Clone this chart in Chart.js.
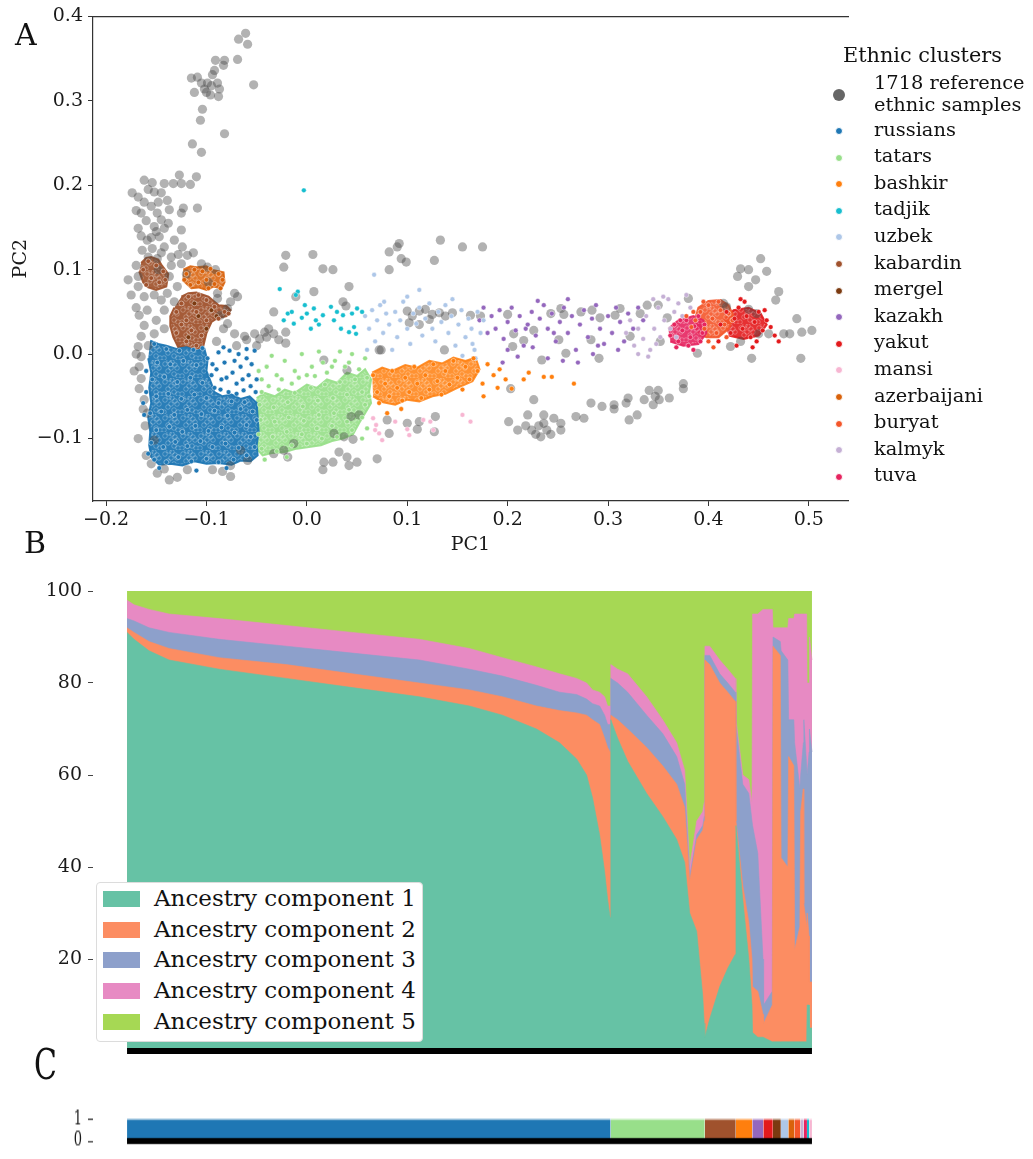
<!DOCTYPE html>
<html><head><meta charset="utf-8">
<script src="https://cdn.jsdelivr.net/npm/chart.js@4.4.0/dist/chart.umd.min.js"></script>
<style>
html,body{margin:0;padding:0;background:#fff;width:1033px;height:1159px;overflow:hidden;}
#wrap{position:relative;width:1033px;height:1159px;font-family:'DejaVu Serif',serif;color:#111;}
canvas{position:absolute;}
.t{position:absolute;white-space:nowrap;font-family:'DejaVu Serif',serif;color:#111;}
.dot{position:absolute;border-radius:50%;}
</style></head><body><div id="wrap">
<canvas id="cA" width="860" height="560" style="left:0;top:0;width:860px;height:560px"></canvas>
<canvas id="cB" width="860" height="504" style="left:0;top:570px;width:860px;height:504px"></canvas>
<div id="cWrap" style="position:absolute;left:0;top:1096px;width:860px;height:46px;transform:scaleY(1.5);transform-origin:0 0;">
<canvas id="cC" width="860" height="46" style="left:0;top:0;width:860px;height:46px"></canvas></div>
</div>
<script>
// ---------------- DATA : panel A (PCA) ----------------
const clusterNames = ['russians','tatars','bashkir','tadjik','uzbek','kabardin','mergel','kazakh','yakut','mansi','azerbaijani','buryat','kalmyk','tuva'];
const clusterColors = ['#1f77b4','#98df8a','#ff7f0e','#17becf','#aec7e8','#a0522d','#7b3a10','#9467bd','#e31a1c','#f7b6d2','#d9620b','#f4562a','#c5b0d5','#e6245f'];
const refLabel = ['1718 reference','ethnic samples'];

const refSamples = [
[-0.061,0.380],[-0.068,0.373],[-0.059,0.367],[-0.069,0.349],[-0.082,0.348],[-0.083,0.342],[-0.091,0.348],[-0.092,0.336],[-0.094,0.331],[-0.109,0.328],[-0.115,0.327],[-0.105,0.321],[-0.099,0.321],[-0.089,0.321],[-0.087,0.314],[-0.102,0.314],[-0.096,0.307],[-0.053,0.319],[-0.104,0.290],[-0.106,0.277],[-0.082,0.261],[-0.114,0.249],[-0.105,0.239],
[-0.1,0.31],[-0.095,0.318],[-0.088,0.305],[-0.112,0.31],
[-0.127,0.212],[-0.110,0.210],[-0.116,0.201],[-0.125,0.202],[-0.133,0.202],[-0.109,0.173],[-0.123,0.173],[-0.125,0.167],
[-0.174,0.191],[-0.162,0.206],[-0.154,0.203],[-0.142,0.202],[-0.168,0.186],[-0.162,0.180],[-0.152,0.192],[-0.145,0.191],[-0.139,0.182],[-0.165,0.167],[-0.155,0.175],[-0.149,0.167],[-0.137,0.171],[-0.145,0.159],[-0.152,0.151],[-0.142,0.149],[-0.168,0.149],[-0.125,0.147],[-0.147,0.139],[-0.159,0.135],[-0.132,0.135],[-0.154,0.125],[-0.142,0.127],[-0.164,0.123],[-0.124,0.127],[-0.149,0.113],[-0.135,0.115],[-0.119,0.117],[-0.125,0.107],[-0.105,0.107],[-0.099,0.103],[-0.091,0.100],
[-0.17,0.17],[-0.158,0.195],[-0.148,0.18],[-0.16,0.158],[-0.15,0.145],[-0.138,0.155],[-0.155,0.138],[-0.165,0.14],[-0.145,0.12],[-0.158,0.115],[-0.135,0.105],[-0.148,0.1],[-0.17,0.105],[-0.175,0.07],[-0.152,0.07],[-0.132,0.062],[-0.15,0.04],[-0.17,0.055],[-0.142,0.03],[-0.158,0.01],[-0.17,0.0],[-0.172,-0.02],[-0.163,-0.065],[-0.168,-0.1],[-0.16,-0.12],[-0.155,-0.13],[-0.12,0.095],[-0.128,0.118],[-0.113,0.12],[-0.098,0.085],[-0.076,0.062],[-0.083,0.03],[-0.09,0.015],[-0.07,0.01],[-0.05,0.01],[-0.04,0.02],[-0.028,0.017],
[-0.178,0.088],[-0.168,0.092],[-0.137,0.092],[-0.129,0.080],[-0.168,0.080],[-0.162,0.068],[-0.145,0.064],[-0.139,0.072],[-0.159,0.052],[-0.167,0.046],[-0.142,0.052],[-0.089,0.072],[-0.072,0.072],[-0.069,0.068],[-0.089,0.066],[-0.079,0.054],[-0.079,0.036],[-0.086,0.046],[-0.162,0.034],[-0.152,0.024],[-0.165,0.021],
[-0.072,0.024],[-0.062,0.021],[-0.052,0.024],[-0.042,0.026],[-0.033,0.024],[-0.021,0.026],[-0.021,0.013],[-0.033,0.050],[-0.060,0.017],[-0.047,0.018],[-0.038,0.030],
[-0.168,0.009],[-0.165,-0.003],[-0.167,-0.015],[-0.165,-0.029],[-0.167,-0.041],[-0.162,-0.054],[-0.159,-0.070],[-0.161,-0.085],[-0.152,-0.102],
[-0.149,-0.141],[-0.137,-0.149],[-0.129,-0.146],[-0.142,-0.136],[-0.119,-0.137],[-0.094,-0.137],[-0.084,-0.139],[-0.076,-0.145],[-0.076,-0.132],[-0.059,-0.126],[-0.066,-0.114],
[-0.033,-0.118],[-0.023,-0.114],[-0.013,-0.106],[-0.019,-0.122],[0.017,-0.128],[0.016,-0.137],[0.026,-0.128],[0.032,-0.116],[0.040,-0.122],[0.050,-0.128],[0.042,-0.132],[0.070,-0.124],[0.027,-0.094],[0.037,-0.098],[0.044,-0.074],[0.052,-0.072],[0.046,-0.101],[0.017,-0.007],[0.040,-0.019],[0.072,0.005],
[0.080,-0.078],[0.082,-0.094],[0.100,-0.082],[0.112,-0.080],[0.110,-0.089],[0.128,-0.074],[0.127,-0.092],
[-0.021,0.117],[-0.023,0.103],[0.006,0.118],[0.016,0.101],[0.026,0.100],[0.042,0.080],[-0.011,0.068],[0.007,0.074],[0.036,0.062],[0.039,0.057],
[0.082,0.121],[0.090,0.127],[0.092,0.131],[0.099,0.109],[0.094,0.113],[0.133,0.135],[0.127,0.111],[0.155,0.127],[0.175,0.127],[0.082,0.100],
[0.100,0.051],[0.105,0.045],[0.112,0.051],[0.118,0.053],[0.125,0.047],[0.132,0.049],[0.138,0.045],[0.145,0.049],[0.102,0.037],[0.112,0.035],[0.122,0.041],[0.163,0.046],[0.173,0.045],[0.074,0.005],[0.137,0.005],
[0.452,0.113],[0.432,0.101],[0.440,0.100],[0.429,0.092],[0.447,0.088],[0.458,0.098],[0.440,0.080],[0.470,0.074],[0.467,0.064],[0.415,0.060],[0.380,0.066],[0.488,0.042],[0.475,0.024],[0.493,0.026],[0.503,0.028],[0.481,0.024],[0.492,-0.005],[0.443,-0.005],[0.389,0.001],[0.422,0.009],[0.432,0.015],[0.450,0.024],[0.460,0.024],[0.448,0.048],[0.418,0.056],[0.440,0.053],
[0.243,0.048],[0.253,0.054],[0.256,0.047],[0.273,0.050],[0.284,0.052],[0.292,0.043],[0.307,0.046],[0.312,0.054],[0.206,0.024],[0.226,0.028],[0.216,0.016],[0.251,0.017],[0.283,0.017],[0.200,0.047],[0.205,0.009],[0.258,0.001],[0.234,-0.007],[0.291,-0.005],[0.332,0.048],[0.339,0.058],[0.350,0.058],[0.352,0.015],[0.359,0.043],[0.322,0.021],
[0.203,-0.041],[0.201,-0.080],[0.210,-0.090],[0.220,-0.072],[0.226,-0.054],[0.218,-0.085],[0.224,-0.090],[0.233,-0.098],[0.236,-0.082],[0.239,-0.090],[0.246,-0.076],[0.253,-0.082],[0.253,-0.090],[0.236,-0.072],[0.268,-0.074],[0.276,-0.076],[0.283,-0.058],[0.294,-0.062],[0.306,-0.060],[0.306,-0.065],[0.318,-0.058],[0.321,-0.078],[0.320,-0.052],[0.329,-0.072],[0.336,-0.054],[0.341,-0.043],[0.347,-0.050],[0.350,-0.043],[0.351,-0.054],[0.361,-0.052],[0.375,-0.035],[0.375,-0.041],[0.345,-0.060],[0.228,-0.095],[0.231,-0.085],[0.243,-0.095]
];

const russians = [
[-0.152,-0.125],[-0.14,-0.128],[-0.128,-0.122],[-0.115,-0.127],[-0.1,-0.124],[-0.088,-0.128],[-0.073,-0.125],[-0.06,-0.12],[-0.052,-0.11],
[-0.155,-0.105],[-0.143,-0.11],[-0.131,-0.104],[-0.119,-0.109],[-0.106,-0.103],[-0.094,-0.11],[-0.081,-0.106],[-0.068,-0.111],[-0.056,-0.098],
[-0.15,-0.09],[-0.137,-0.086],[-0.124,-0.092],[-0.111,-0.085],[-0.098,-0.091],[-0.085,-0.087],[-0.072,-0.093],[-0.06,-0.084],[-0.05,-0.078],
[-0.156,-0.07],[-0.145,-0.068],[-0.132,-0.072],[-0.119,-0.066],[-0.105,-0.071],[-0.092,-0.067],[-0.079,-0.073],[-0.066,-0.065],[-0.054,-0.068],
[-0.15,-0.05],[-0.138,-0.047],[-0.125,-0.053],[-0.112,-0.048],[-0.1,-0.052],[-0.088,-0.058],[-0.075,-0.056],[-0.062,-0.057],
[-0.154,-0.03],[-0.142,-0.027],[-0.129,-0.033],[-0.116,-0.028],[-0.104,-0.034],
[-0.149,-0.01],[-0.136,-0.012],[-0.123,-0.008],[-0.11,-0.013],[-0.099,-0.005],
[-0.152,0.012],[-0.14,0.006],[-0.127,0.004],[-0.113,0.005],[-0.104,0.007],
[-0.092,-0.04],[-0.085,-0.03],[-0.078,-0.045],[-0.07,-0.035],[-0.063,-0.043],[-0.056,-0.038],[-0.09,-0.018],[-0.082,-0.01],[-0.074,-0.022],[-0.066,-0.015],[-0.058,-0.025],[-0.051,-0.045],[-0.088,0.002],[-0.077,0.004],[-0.068,0.0],[-0.06,0.006],[-0.052,0.004],[-0.095,-0.025],
[-0.094,-0.012],[-0.086,-0.042],[-0.08,-0.028],[-0.072,-0.008],[-0.064,-0.03],[-0.055,-0.012],[-0.05,-0.03],[-0.083,0.008],[-0.07,-0.047],[-0.06,-0.005],
[-0.162,-0.072],[-0.16,-0.045],[-0.158,-0.118],[-0.16,-0.02],[-0.147,-0.135],[-0.11,-0.138],[-0.08,-0.135],[-0.163,-0.058]
];
const tatars = [
[-0.045,-0.112],[-0.03,-0.115],[-0.015,-0.108],[0.0,-0.106],[0.015,-0.1],[0.03,-0.098],[0.045,-0.09],
[-0.048,-0.095],[-0.034,-0.098],[-0.02,-0.092],[-0.005,-0.095],[0.01,-0.088],[0.025,-0.085],[0.04,-0.08],[0.055,-0.075],
[-0.046,-0.078],[-0.032,-0.08],[-0.018,-0.075],[-0.003,-0.079],[0.012,-0.072],[0.027,-0.07],[0.042,-0.066],[0.058,-0.06],
[-0.047,-0.06],[-0.033,-0.063],[-0.019,-0.057],[-0.004,-0.062],[0.011,-0.055],[0.026,-0.052],[0.04,-0.048],[0.055,-0.045],[0.062,-0.05],
[-0.045,-0.045],[-0.028,-0.042],[-0.012,-0.046],[0.004,-0.04],[0.018,-0.036],[0.033,-0.033],[0.048,-0.03],[0.06,-0.028],
[-0.045,-0.03],[-0.04,-0.015],[-0.03,-0.025],[-0.022,-0.008],[-0.012,-0.02],[-0.005,0.0],[0.005,-0.015],[0.012,0.003],[0.02,-0.022],[0.028,-0.008],[0.038,-0.015],[0.045,0.0],[0.052,-0.018],[0.058,-0.005],[-0.035,-0.002],[0.0,-0.025],[0.033,0.003],[-0.015,-0.035],
[-0.038,-0.038],[-0.025,-0.03],[-0.008,-0.028],[0.008,-0.026],[0.025,-0.015],[0.042,-0.01],[-0.048,-0.02],[0.016,-0.01],
[-0.042,-0.125],[-0.02,-0.122],[0.055,-0.1],[0.06,-0.088]
];
const bashkir = [
[0.066,-0.025],[0.07,-0.045],[0.072,-0.058],[0.078,-0.035],[0.082,-0.05],[0.085,-0.02],[0.09,-0.04],[0.095,-0.055],[0.098,-0.028],[0.102,-0.045],[0.107,-0.015],[0.11,-0.035],[0.114,-0.052],[0.118,-0.025],[0.122,-0.042],[0.126,-0.012],[0.13,-0.032],[0.134,-0.048],[0.138,-0.02],[0.142,-0.036],[0.146,-0.008],[0.15,-0.028],[0.155,-0.042],[0.158,-0.015],[0.162,-0.03],[0.166,-0.005],[0.17,-0.02],[0.175,-0.035],[0.18,-0.012],[0.186,-0.025],[0.192,-0.018],[0.198,-0.03],[0.204,-0.041],[0.216,-0.03],[0.221,-0.022],[0.236,-0.027],[0.244,-0.027],[0.266,-0.035],[0.19,-0.04],[0.176,-0.05],[0.094,-0.065],[0.08,-0.07]
];
const tadjik = [
[-0.027,0.077],[-0.009,0.074],[-0.011,0.070],[-0.002,0.058],[0.007,0.054],[0.016,0.046],[0.000,0.048],[0.009,0.040],[0.004,0.030],[-0.013,0.036],[-0.019,0.048],[-0.023,0.040],[0.024,0.056],[0.027,0.040],[0.036,0.046],[0.034,0.030],[0.042,0.026],[0.045,0.048],[0.047,0.032],[0.049,0.024],[0.050,0.054],[-0.003,0.194],[-0.015,0.05],[0.012,0.035],[0.03,0.05],[0.055,0.05],[-0.005,0.043]
];
const uzbek = [
[0.058,0.045],[0.062,0.03],[0.065,0.052],[0.068,0.015],[0.07,0.04],[0.073,0.058],[0.076,0.025],[0.079,0.048],[0.082,0.035],[0.085,0.005],[0.088,0.05],[0.09,0.02],[0.093,0.04],[0.096,0.062],[0.1,0.03],[0.103,0.012],[0.106,0.048],[0.109,0.036],[0.112,0.055],[0.115,0.022],[0.118,0.042],[0.122,0.06],[0.125,0.03],[0.128,0.015],[0.131,0.05],[0.134,0.038],[0.138,0.058],[0.141,0.025],[0.144,0.045],[0.148,0.01],[0.151,0.035],[0.154,0.052],[0.158,0.02],[0.161,0.042],[0.164,0.03],[0.167,0.005],[0.17,0.05],[0.173,0.025],[0.176,0.04],[0.168,-0.005],[0.155,-0.002],[0.067,0.094],[0.077,0.062],[0.112,0.076],[0.1,0.068],[0.145,0.065],[0.165,0.012],[0.06,0.005]
];
const kabardin = [
[-0.163,0.1],[-0.158,0.11],[-0.15,0.105],[-0.143,0.098],[-0.155,0.09],[-0.147,0.085],[-0.16,0.082],[-0.141,0.088],
[-0.13,0.05],[-0.125,0.06],[-0.118,0.068],[-0.108,0.07],[-0.1,0.064],[-0.092,0.056],[-0.082,0.05],[-0.12,0.04],[-0.11,0.05],[-0.1,0.04],[-0.088,0.042],[-0.13,0.025],[-0.12,0.015],[-0.11,0.01],[-0.105,0.022],[-0.125,0.035],[-0.115,0.028],[-0.078,0.048]
];
const mergel = [[-0.1,0.03],[-0.108,0.045],[-0.095,0.052],[-0.118,0.02],[-0.112,0.06],[-0.09,0.045]];
const kazakh = [
[0.172,0.04],[0.176,0.055],[0.18,0.025],[0.184,0.045],[0.188,0.03],[0.192,0.052],[0.196,0.018],[0.2,0.038],[0.204,0.055],[0.208,0.028],[0.212,0.045],[0.216,0.01],[0.22,0.035],[0.224,0.05],[0.228,0.022],[0.232,0.042],[0.236,0.058],[0.24,0.03],[0.244,0.048],[0.248,0.015],[0.252,0.038],[0.256,0.055],[0.26,0.025],[0.264,0.045],[0.268,0.005],[0.272,0.035],[0.276,0.052],[0.28,0.02],[0.284,0.042],[0.288,0.058],[0.292,0.03],[0.296,0.012],[0.3,0.045],[0.304,0.025],[0.308,0.055],[0.312,0.038],[0.316,0.015],[0.32,0.048],[0.325,0.03],[0.33,0.055],[0.335,0.04],[0.24,-0.005],[0.255,-0.008],[0.27,-0.01],[0.285,0.0],[0.21,-0.003],[0.225,0.008],[0.2,0.005],[0.195,-0.01],[0.26,0.065],[0.23,0.063],[0.29,0.01],[0.31,0.005],[0.246,0.025],[0.218,0.03]
];
const yakut = [
[0.412,0.035],[0.418,0.05],[0.422,0.025],[0.426,0.042],[0.43,0.055],[0.434,0.03],[0.438,0.045],[0.442,0.02],[0.446,0.038],[0.45,0.05],[0.454,0.028],[0.458,0.04],[0.462,0.032],[0.466,0.022],[0.47,0.015],[0.432,0.065],[0.428,0.01],[0.444,0.008],[0.436,0.062],[0.41,0.015],[0.448,0.015],[0.456,0.052]
];
const mansi = [
[0.066,-0.076],[0.069,-0.084],[0.072,-0.094],[0.075,-0.102],[0.088,-0.080],[0.100,-0.089],[0.102,-0.096],[0.116,-0.078],[0.123,-0.080],[0.155,-0.072],[0.163,-0.080],[0.126,-0.090],[0.068,-0.09]
];
const azerbaijani = [
[-0.12,0.095],[-0.112,0.1],[-0.104,0.098],[-0.096,0.101],[-0.088,0.095],[-0.084,0.088],[-0.092,0.083],[-0.1,0.088],[-0.108,0.085],[-0.116,0.082],[-0.122,0.088],[-0.098,0.078],[-0.086,0.078]
];
const buryat = [
[0.387,0.04],[0.392,0.05],[0.396,0.03],[0.4,0.058],[0.404,0.042],[0.408,0.025],[0.412,0.052],[0.416,0.035],[0.42,0.048],[0.395,0.062],[0.41,0.062],[0.383,0.032],[0.4,0.015],[0.418,0.02],[0.405,0.008],[0.424,0.04],[0.385,0.05],[0.378,0.045]
];
const kalmyk = [
[0.318,0.025],[0.322,0.04],[0.326,0.01],[0.33,0.03],[0.335,0.018],[0.338,0.045],[0.342,0.005],[0.346,0.03],[0.35,0.055],[0.352,0.02],[0.356,0.04],[0.36,0.065],[0.362,0.03],[0.366,0.05],[0.37,0.06],[0.374,0.045],[0.378,0.07],[0.382,0.055],[0.345,0.065],[0.355,0.068],[0.34,-0.003],[0.33,0.0],[0.348,0.012],[0.368,0.02]
];
const tuva = [
[0.362,0.022],[0.366,0.035],[0.37,0.015],[0.374,0.028],[0.378,0.04],[0.382,0.02],[0.386,0.033],[0.39,0.045],[0.394,0.025],[0.368,0.008],[0.38,0.01],[0.392,0.015],[0.372,0.04],[0.385,0.005],[0.396,0.035]
];
// outlines of the densest parts of each cluster (where individual points merge)
const russiansCore = [[-0.156,0.016],[-0.148,0.012],[-0.14,0.01],[-0.13,0.006],[-0.12,0.008],[-0.11,0.004],[-0.102,0.006],[-0.099,-0.008],[-0.1,-0.02],[-0.096,-0.032],[-0.092,-0.045],[-0.084,-0.05],[-0.075,-0.048],[-0.066,-0.053],[-0.057,-0.05],[-0.05,-0.058],[-0.049,-0.075],[-0.048,-0.092],[-0.05,-0.108],[-0.049,-0.12],[-0.056,-0.127],[-0.066,-0.126],[-0.075,-0.131],[-0.088,-0.129],[-0.1,-0.13],[-0.112,-0.127],[-0.124,-0.132],[-0.136,-0.13],[-0.147,-0.131],[-0.155,-0.122],[-0.157,-0.108],[-0.156,-0.092],[-0.158,-0.075],[-0.155,-0.058],[-0.157,-0.04],[-0.155,-0.022],[-0.158,-0.005]];
const tatarsCore = [[-0.05,-0.052],[-0.042,-0.046],[-0.032,-0.05],[-0.022,-0.042],[-0.012,-0.046],[0.0,-0.036],[0.01,-0.04],[0.02,-0.03],[0.03,-0.034],[0.04,-0.022],[0.05,-0.026],[0.058,-0.018],[0.064,-0.03],[0.062,-0.045],[0.064,-0.058],[0.058,-0.07],[0.052,-0.082],[0.046,-0.095],[0.036,-0.1],[0.025,-0.103],[0.014,-0.108],[0.002,-0.11],[-0.01,-0.112],[-0.022,-0.116],[-0.034,-0.117],[-0.044,-0.12],[-0.05,-0.112],[-0.051,-0.095],[-0.05,-0.078],[-0.052,-0.064]];
const bashkirCore = [[0.065,-0.022],[0.075,-0.016],[0.085,-0.02],[0.098,-0.013],[0.11,-0.016],[0.122,-0.008],[0.135,-0.011],[0.146,-0.004],[0.158,-0.008],[0.168,-0.004],[0.172,-0.018],[0.165,-0.032],[0.15,-0.04],[0.138,-0.047],[0.125,-0.05],[0.112,-0.056],[0.1,-0.054],[0.088,-0.06],[0.076,-0.057],[0.066,-0.05]];
const kabardinCoreA = [[-0.165,0.108],[-0.16,0.114],[-0.155,0.115],[-0.148,0.112],[-0.145,0.106],[-0.138,0.095],[-0.14,0.08],[-0.15,0.076],[-0.158,0.079],[-0.163,0.085],[-0.167,0.098]];
const kabardinCoreB = [[-0.125,0.068],[-0.118,0.072],[-0.11,0.073],[-0.098,0.068],[-0.092,0.062],[-0.088,0.058],[-0.08,0.057],[-0.076,0.052],[-0.08,0.045],[-0.09,0.042],[-0.095,0.038],[-0.1,0.025],[-0.103,0.01],[-0.108,0.007],[-0.115,0.006],[-0.122,0.009],[-0.128,0.008],[-0.133,0.02],[-0.136,0.033],[-0.136,0.045],[-0.132,0.055]];
const azerbaijaniCore = [[-0.123,0.1],[-0.116,0.104],[-0.11,0.103],[-0.1,0.104],[-0.095,0.1],[-0.083,0.097],[-0.082,0.085],[-0.085,0.078],[-0.093,0.08],[-0.1,0.076],[-0.108,0.079],[-0.115,0.078],[-0.124,0.088]];
const tuvaCore = [[0.36,0.03],[0.37,0.04],[0.385,0.045],[0.395,0.04],[0.398,0.025],[0.39,0.012],[0.375,0.01],[0.362,0.015]];
const buryatCore = [[0.385,0.035],[0.39,0.055],[0.4,0.063],[0.412,0.064],[0.42,0.058],[0.425,0.045],[0.42,0.03],[0.41,0.02],[0.398,0.02],[0.388,0.025]];
const yakutCore = [[0.415,0.04],[0.425,0.052],[0.44,0.055],[0.452,0.048],[0.458,0.035],[0.45,0.022],[0.435,0.018],[0.42,0.022]];

const pcXTicks = [-0.2,-0.1,0.0,0.1,0.2,0.3,0.4,0.5];
const pcYTicks = [-0.1,0.0,0.1,0.2,0.3,0.4];

// ---------------- DATA : panel B (ancestry, samples sorted) ----------------
const admixIdx = [0,70,220,420,920,1590,2250,2920,3420,3750,4090,4320,4490,4590,4650,4720,4770,4800,4825,
 4832,4900,5000,5190,5350,5490,5570,5620,5690,5750,5765,
 5772,5820,5920,6000,6075, 6082,6150,6210,6242, 6248,6300,6352, 6358,6445, 6452,6525, 6533,6600,
 6608,6660, 6668,6720, 6728,6755, 6760,6788, 6793,6812, 6816,6841];
const comp1 = [91,89.5,87,85,83,81,79,77,75,73,70,67,63.5,60,55,47,39,33,29, 72,68,63,56,51,46,41,30,26,12,6, 3,7,14,18,21, 49,33,20,10, 4,3,3, 3,2, 2,2, 2,2, 2,2, 2,2, 2,2, 2,2, 10,10, 5,5];
const comp2 = [1,1.5,2,2.5,2.5,3,3,3,3.5,4,5,7,10,13,17,24,29,33,36, 1,4,7,10,11,12,12,7,20,36,44, 82,77,66,60,55, 1,3,8,10, 10,10,5, 3,8, 86,84, 40,38, 62,60, 20,25, 50,55, 30,25, 20,15, 10,10];
const comp3 = [2,2.5,3,3.5,4,4,4.5,5,4.5,4.5,4.5,4,4,3.5,3.5,4,5,5,6, 8,8,8,7,7,6,5,1,1,1,1, 1,2,2,2,2, 21,22,28,30, 35,30,12, 4,3, 2,3, 45,45, 8,10, 45,30, 8,10, 40,35, 30,40, 55,50];
const comp4 = [4,3.5,4,4,4.5,4.5,4.5,4.5,4.5,4,4,4,3.5,3.5,3,3,4,4,4, 3,3,4,4,3,3,3,2,3,3,3, 2,2,3,3,3, 1,2,3,4, 46,52,76, 86,83, 2,3, 5,7, 22,22, 28,38, 35,28, 23,33, 20,15, 20,20];
const comp5 = [2,3,4,5,6,7.5,9,10.5,12.5,14.5,16.5,18,19,20,21.5,22,23,25,25, 16,17,18,23,28,33,39,60,50,48,46, 12,12,15,17,19, 28,40,41,46, 5,5,4, 4,4, 8,8, 8,8, 6,6, 5,5, 5,5, 5,5, 20,20, 10,15];
const compLabels = ['Ancestry component 1','Ancestry component 2','Ancestry component 3','Ancestry component 4','Ancestry component 5'];
const compColors = ['#66c2a5','#fc8d62','#8da0cb','#e78ac3','#a6d854'];
const admixYTicks = [20,40,60,80,100];

// ---------------- DATA : panel C (cluster of each sample, same order) ----------------
const barOrder = ['russians','tatars','kabardin','bashkir','kazakh','yakut','mergel','uzbek','azerbaijani','buryat','kalmyk','tuva','tadjik','mansi'];
const barCounts = [4830,940,310,165,110,95,80,75,60,60,33,33,23,27];
const barYTicks = [0,1];

// ---------------- RENDER ----------------
Chart.defaults.font.family = "'DejaVu Serif', serif";
Chart.defaults.color = '#1a1a1a';
const serif = "'DejaVu Serif', serif";
const fmtPC = v => { const r = Math.round(v*10)/10; return (r < 0 ? '\u2212' : '') + Math.abs(r).toFixed(1); };
const toXY = arr => arr.map(p => ({x:p[0], y:p[1]}));
const colorOf = n => clusterColors[clusterNames.indexOf(n)];
const rgba = (hex,a) => { const n=parseInt(hex.slice(1),16); return `rgba(${n>>16},${(n>>8)&255},${n&255},${a})`; };

// speckled fill so dense cores read like many overlapping white-edged markers
const ctxA = document.getElementById('cA').getContext('2d');
const speckleSpots = [[3,4],[10,2],[15,8],[6,11],[12,14],[2,16],[9,8],[16,16],[7,1],[13,5]];
function speckle(hex, a){
  const c = document.createElement('canvas'); c.width = 18; c.height = 18;
  const g = c.getContext('2d');
  g.fillStyle = rgba(hex, a); g.fillRect(0,0,18,18);
  g.strokeStyle = 'rgba(255,255,255,0.5)'; g.lineWidth = 0.5;
  speckleSpots.forEach(([x,y]) => { g.beginPath(); g.arc(x, y, 2.3, 0, Math.PI*2); g.stroke(); });
  return ctxA.createPattern(c, 'repeat');
}

const clusterPts = {russians,tatars,bashkir,tadjik,uzbek,kabardin,mergel,kazakh,yakut,mansi,azerbaijani,buryat,kalmyk,tuva};
const cores = [['russians',russiansCore,0.95],['tatars',tatarsCore,0.92],['bashkir',bashkirCore,0.85],['kabardin',kabardinCoreA,0.92],['kabardin',kabardinCoreB,0.95],['azerbaijani',azerbaijaniCore,0.88],['tuva',tuvaCore,0.9],['buryat',buryatCore,0.9],['yakut',yakutCore,0.9]];

const dsA = [];
cores.forEach(([n,pts,a]) => dsA.push({data:toXY(pts), showLine:true, fill:'shape', backgroundColor:speckle(colorOf(n),a), borderColor:rgba(colorOf(n),a), borderWidth:2, pointRadius:0, order:2}));
dsA.push({label:'ref', data:toXY(refSamples), backgroundColor:'rgba(72,72,72,0.42)', borderWidth:0, pointRadius:4.6, order:1});
clusterNames.forEach(n => dsA.push({label:n, data:toXY(clusterPts[n]), backgroundColor:colorOf(n), borderColor:'rgba(255,255,255,0.85)', borderWidth:0.5, pointRadius:2.4, order:0}));

const tickFont = {family:serif, size:19};
const tickGrid = {display:true, drawOnChartArea:false, drawTicks:true, tickLength:5, tickWidth:1, color:'#333'};

new Chart(document.getElementById('cA'), {
  type:'scatter',
  data:{datasets:dsA},
  options:{
    responsive:false, animation:false, devicePixelRatio:1,
    layout:{padding:{left:0, top:16, right:12, bottom:0}},
    plugins:{legend:{display:false}, tooltip:{enabled:false}},
    scales:{
      x:{type:'linear', position:'bottom', min:-0.213, max:0.539,
        afterFit:s=>{s.height=59;},
        afterBuildTicks:s=>{s.ticks = pcXTicks.map(v=>({value:v}));},
        ticks:{font:tickFont, color:'#1a1a1a', padding:3, autoSkip:false, maxRotation:0, callback:fmtPC},
        grid:tickGrid, border:{display:true, color:'#333', width:1.2},
        title:{display:true, text:'PC1', font:{family:serif,size:19}, color:'#1a1a1a', padding:{top:0,bottom:4}}},
      x2:{type:'linear', position:'top', min:-0.213, max:0.539, afterFit:s=>{s.height=0;},
        ticks:{display:false}, grid:{display:false, drawTicks:false}, border:{display:true, color:'#333', width:1.2}},
      y:{type:'linear', min:-0.174, max:0.4,
        afterFit:s=>{s.width=93;},
        afterBuildTicks:s=>{s.ticks = pcYTicks.map(v=>({value:v}));},
        ticks:{font:tickFont, color:'#1a1a1a', padding:5, autoSkip:false, callback:fmtPC},
        grid:tickGrid, border:{display:true, color:'#333', width:1.2},
        title:{display:true, text:'PC2', font:{family:serif,size:19}, color:'#1a1a1a', padding:{top:10,bottom:0}}}
    }
  }
});

// panel B : cumulative layers painted from the top layer down (no gaps between layers)
const totalSamples = barCounts.reduce((a,b)=>a+b,0);
const comps = [comp1,comp2,comp3,comp4,comp5];
const cumul = comps.map((c,i)=>admixIdx.map((_,j)=>comps.slice(0,i+1).reduce((s,cc)=>s+cc[j],0)));
const dsB = cumul.map((c,i)=>({
  label:compLabels[i], data:admixIdx.map((x,j)=>({x, y:c[j]})), backgroundColor:compColors[i],
  borderColor:compColors[i], borderWidth:0.6, pointRadius:0, fill:'origin', tension:0, order:i+1
}));
dsB.push({label:'base', data:[{x:0,y:0},{x:totalSamples,y:0}], borderColor:'#000', borderWidth:6, pointRadius:0, fill:false, order:0, clip:false});
const sideGrid = {display:true, drawOnChartArea:false, drawTicks:true, tickLength:5, tickWidth:1, color:'#444'};
new Chart(document.getElementById('cB'), {
  type:'line',
  data:{datasets:dsB},
  options:{
    responsive:false, animation:false, devicePixelRatio:1,
    layout:{padding:{left:0, top:21, right:14, bottom:23}},
    plugins:{legend:{display:false}, tooltip:{enabled:false}},
    scales:{
      x:{type:'linear', min:-340, max:7181, display:false},
      y:{type:'linear', min:0, max:100,
        afterFit:s=>{s.width=93;},
        afterBuildTicks:s=>{s.ticks = admixYTicks.map(v=>({value:v}));},
        ticks:{font:{family:serif,size:19}, color:'#1a1a1a', padding:6, autoSkip:false},
        grid:sideGrid, border:{display:false}}
    }
  }
});

// panel C
let cum = 0;
const dsC = barOrder.map((n,i)=>{ const s=cum; cum += barCounts[i];
  return {label:n, data:[{x:s,y:1},{x:cum,y:1}], backgroundColor:colorOf(n), borderWidth:0, pointRadius:0, fill:'origin', order:1}; });
dsC.push({label:'base', data:[{x:0,y:0},{x:totalSamples,y:0}], borderColor:'#000', borderWidth:4, pointRadius:0, fill:false, order:0, clip:false});
new Chart(document.getElementById('cC'), {
  type:'line',
  data:{datasets:dsC},
  options:{
    responsive:false, animation:false, devicePixelRatio:1,
    layout:{padding:{left:0, top:15.3, right:14, bottom:16}},
    plugins:{legend:{display:false}, tooltip:{enabled:false}},
    scales:{
      x:{type:'linear', min:-340, max:7181, display:false},
      y:{type:'linear', min:0, max:1,
        afterFit:s=>{s.width=93;},
        afterBuildTicks:s=>{s.ticks = barYTicks.map(v=>({value:v}));},
        ticks:{font:{family:serif,size:13}, color:'#1a1a1a', padding:6, autoSkip:false},
        grid:sideGrid, border:{display:false}}
    }
  }
});

// ---------------- HTML text: panel letters & legends ----------------
const wrap = document.getElementById('wrap');
function txt(s, left, top, size, extra){ const d=document.createElement('div'); d.className='t'; d.textContent=s;
  d.style.left=left+'px'; d.style.top=top+'px'; d.style.fontSize=size+'px'; d.style.lineHeight='1'; if(extra) Object.assign(d.style, extra); wrap.appendChild(d); return d; }
function dot(cx, cy, r, color, border){ const d=document.createElement('div'); d.className='dot';
  d.style.left=(cx-r)+'px'; d.style.top=(cy-r)+'px'; d.style.width=(2*r)+'px'; d.style.height=(2*r)+'px'; d.style.background=color;
  if(border){ d.style.boxSizing='border-box'; d.style.border=border; } wrap.appendChild(d); }

txt('A', 15, 20, 30);
txt('B', 24, 528, 30);
txt('C', 34, 1043, 30, {transform:'scaleY(1.45)', transformOrigin:'0 0'});

// legend A
txt('Ethnic clusters', 843, 45, 20.8);
dot(839, 95, 6.3, '#666');
txt(refLabel[0], 874, 73, 19.4);
txt(refLabel[1], 874, 95, 19.4);
clusterNames.forEach((n,i)=>{ const cy = 131 + i*26.6; dot(839, cy, 4, colorOf(n), '0.6px solid #fff'); txt(n, 874, cy-11.5, 19.4); });

// legend B
const lb = document.createElement('div');
Object.assign(lb.style, {position:'absolute', left:'96px', top:'882px', width:'327px', height:'160px', background:'#fff', border:'1px solid #dcdcdc', borderRadius:'4px', boxSizing:'border-box'});
wrap.appendChild(lb);
compLabels.forEach((l,i)=>{ const cy = 899 + i*30.7;
  const r=document.createElement('div'); Object.assign(r.style,{position:'absolute', left:'103px', top:(cy-8)+'px', width:'37px', height:'16px', background:compColors[i]}); wrap.appendChild(r);
  txt(l, 154, cy-12, 23); });
</script>
</body></html>
